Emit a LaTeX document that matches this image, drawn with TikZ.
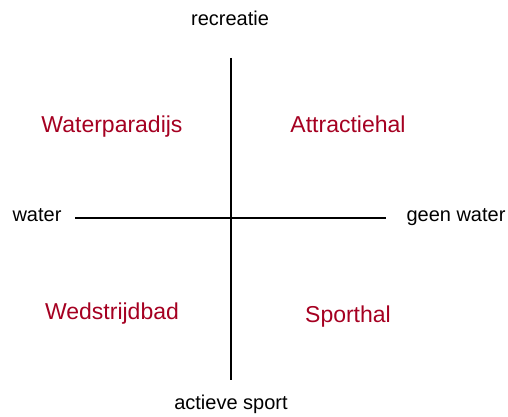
\documentclass[tikz,border=0pt]{standalone}
\usepackage{fontspec}
\setmainfont{Liberation Sans}
\definecolor{dred}{HTML}{A50021}
\begin{document}
\begin{tikzpicture}[x=1pt,y=-1pt,
  axis/.style={line width=2.6pt,black},
  lbl/.style={font=\fontsize{20}{24}\selectfont,inner sep=0pt,text depth=0pt},
  quad/.style={font=\fontsize{23}{27}\selectfont,text=dred,inner sep=0pt,text depth=0pt}]
\useasboundingbox (0,0) rectangle (508,417);
\coordinate (top) at (231,58);
\coordinate (bot) at (231,380);
\coordinate (left) at (75,218);
\coordinate (right) at (386,218);
\draw[axis] (top) -- (bot);
\draw[axis] (left) -- (right);
\node[lbl] (rec) at (230,18) {recreatie};
\node[lbl] (act) at (231,402) {actieve sport};
\node[lbl] (wat) at (37,215) {water};
\node[lbl] (gw) at (456,215) {geen water};
\node[quad] (wp) at (112,124) {Waterparadijs};
\node[quad] (ah) at (348,124) {Attractiehal};
\node[quad] (wb) at (112,311) {Wedstrijdbad};
\node[quad] (sh) at (348,314) {Sporthal};
\end{tikzpicture}
\end{document}
